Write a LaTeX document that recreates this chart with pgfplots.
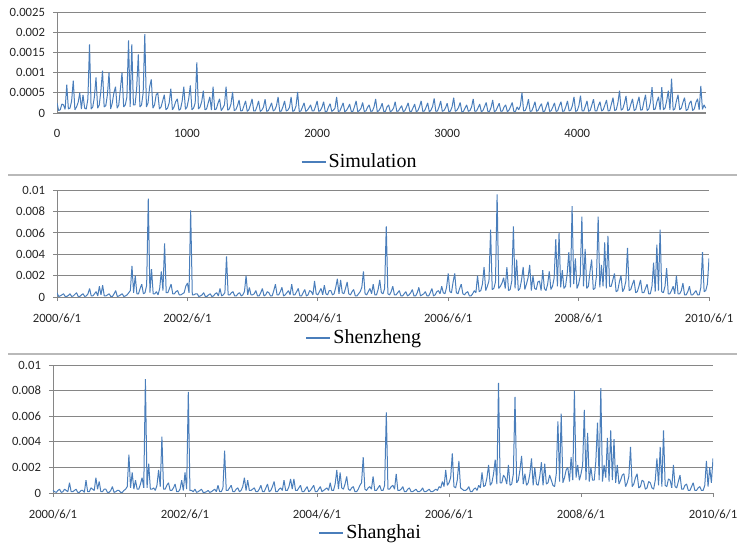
\documentclass[border=0pt]{standalone}
\usepackage{pgfplots}
\pgfplotsset{compat=1.18}
\usepackage{pgfplotstable}
\usepackage{fontspec}
\setmainfont{Liberation Serif}
\newfontfamily\tickfont{Carlito}

\definecolor{ser}{RGB}{74,126,187}
\definecolor{grd}{RGB}{134,134,134}
\definecolor{sep}{RGB}{185,185,185}

% Simulation: y in units of 1e-4, one value every 12.5 steps (0..4987.5)
\pgfplotstableread[row sep=\\]{
y\\
2.5\\0.6\\0.8\\2.2\\2.0\\0.9\\7.0\\1.0\\1.2\\3.0\\8.0\\0.8\\1.5\\2.6\\5.0\\1.0\\
4.5\\1.2\\1.0\\3.5\\17.0\\1.0\\1.5\\4.0\\8.8\\1.2\\2.0\\5.5\\10.5\\1.5\\1.8\\4.5\\
10.0\\1.0\\2.5\\5.0\\6.5\\1.2\\2.0\\6.0\\10.0\\1.5\\2.0\\4.0\\18.0\\1.5\\17.0\\2.0\\
2.0\\6.0\\14.5\\1.5\\2.0\\5.0\\19.5\\1.5\\2.5\\6.5\\8.3\\1.2\\2.0\\4.5\\5.0\\1.0\\
1.5\\3.0\\4.5\\0.8\\1.2\\2.5\\6.0\\0.8\\1.5\\2.8\\3.5\\0.7\\1.0\\3.0\\6.5\\0.9\\
1.5\\3.5\\6.8\\0.8\\1.2\\2.5\\12.5\\1.0\\1.5\\2.8\\5.5\\0.8\\1.0\\2.5\\4.0\\0.7\\
6.5\\0.8\\1.0\\2.4\\3.5\\0.6\\1.2\\2.0\\6.5\\0.7\\1.0\\2.2\\5.2\\0.6\\0.8\\1.8\\
3.2\\0.5\\0.6\\1.8\\3.0\\0.4\\0.8\\2.0\\3.5\\0.5\\0.5\\1.6\\3.0\\0.4\\0.7\\1.5\\
3.4\\0.4\\0.6\\1.5\\2.5\\0.5\\0.8\\1.8\\4.0\\0.4\\0.5\\1.6\\3.0\\0.5\\0.7\\1.4\\
4.0\\0.4\\0.6\\1.7\\5.2\\0.4\\0.5\\1.5\\2.5\\0.4\\0.7\\1.3\\2.0\\0.5\\0.5\\1.6\\
3.0\\0.4\\0.6\\1.4\\2.8\\0.3\\0.4\\1.5\\2.3\\0.4\\0.7\\1.2\\4.0\\0.4\\0.5\\1.5\\
2.5\\0.3\\0.6\\1.3\\2.2\\0.4\\0.4\\1.6\\3.0\\0.3\\0.6\\1.2\\2.6\\0.4\\0.5\\1.4\\
2.0\\0.4\\0.5\\1.5\\3.5\\0.3\\0.6\\1.3\\2.4\\0.4\\0.4\\1.5\\2.0\\0.3\\0.6\\1.2\\
2.8\\0.4\\0.5\\1.2\\1.8\\0.3\\0.6\\1.5\\2.5\\0.4\\0.4\\1.3\\2.2\\0.3\\0.6\\1.6\\
3.0\\0.4\\0.5\\1.4\\2.5\\0.3\\0.7\\1.6\\3.6\\0.4\\0.5\\1.5\\3.0\\0.4\\0.6\\1.3\\
2.4\\0.3\\0.5\\1.5\\3.8\\0.4\\0.7\\1.4\\2.6\\0.3\\0.4\\1.2\\2.0\\0.4\\0.6\\1.5\\
3.5\\0.4\\0.5\\1.3\\2.2\\0.3\\0.6\\1.6\\2.6\\0.4\\0.4\\1.4\\3.2\\0.3\\0.6\\1.5\\
2.4\\0.4\\0.5\\1.5\\2.0\\0.3\\0.7\\1.6\\2.6\\0.4\\0.4\\1.5\\0.8\\1.8\\5.0\\0.5\\
0.6\\1.6\\3.4\\0.4\\0.5\\1.5\\2.8\\0.4\\0.7\\1.6\\2.3\\0.3\\0.5\\1.7\\2.8\\0.4\\
0.6\\1.5\\2.5\\0.4\\0.6\\1.8\\2.8\\0.4\\0.5\\1.6\\3.0\\0.5\\0.7\\1.8\\4.0\\0.4\\
0.6\\1.8\\4.3\\0.5\\0.5\\1.7\\3.0\\0.4\\0.7\\2.0\\3.4\\0.5\\0.5\\1.8\\2.8\\0.5\\
0.8\\2.0\\3.2\\0.5\\0.6\\2.2\\3.8\\0.6\\0.8\\2.5\\5.5\\0.7\\1.0\\2.4\\4.2\\0.6\\
0.8\\2.2\\3.5\\0.6\\0.9\\2.5\\4.0\\0.7\\0.8\\2.8\\4.5\\0.6\\1.0\\2.6\\6.4\\0.8\\
1.0\\2.8\\4.0\\0.7\\6.4\\0.8\\1.2\\3.0\\5.5\\0.8\\8.5\\0.7\\1.0\\3.0\\4.5\\0.8\\
1.2\\2.6\\3.8\\0.6\\0.9\\2.4\\3.0\\0.6\\1.0\\2.6\\3.5\\0.8\\6.7\\0.9\\2.0\\1.2\\
}\simdata

% Shenzheng: y in units of 1e-3, one value every 0.025 year from 2000/6/1
\pgfplotstableread[row sep=\\]{
y\\
0.4\\0.05\\0.1\\0.2\\0.3\\0.05\\0.05\\0.15\\0.3\\0.05\\0.1\\0.25\\0.4\\0.05\\0.05\\0.2\\0.3\\0.05\\0.1\\0.3\\
0.8\\0.1\\0.1\\0.3\\0.5\\0.1\\1.0\\0.2\\1.1\\0.1\\0.1\\0.2\\0.3\\0.05\\0.05\\0.3\\0.6\\0.05\\0.1\\0.2\\
0.3\\0.05\\0.1\\0.2\\0.4\\0.6\\2.9\\0.4\\2.0\\0.3\\0.3\\0.8\\1.2\\0.3\\0.4\\1.1\\9.2\\0.4\\2.6\\0.3\\
0.3\\0.5\\0.2\\0.8\\2.4\\0.6\\5.0\\0.4\\0.4\\0.8\\1.2\\0.3\\0.3\\0.5\\0.6\\0.2\\0.2\\0.3\\0.4\\1.0\\
1.3\\0.4\\8.1\\0.2\\0.2\\0.3\\0.3\\0.05\\0.1\\0.2\\0.4\\0.05\\0.05\\0.2\\0.3\\0.05\\0.1\\0.3\\0.4\\0.1\\
0.8\\0.1\\0.2\\0.4\\3.8\\0.2\\0.2\\0.4\\0.5\\0.1\\0.1\\0.3\\0.4\\0.1\\0.2\\0.5\\2.0\\0.2\\0.9\\0.2\\
0.2\\0.3\\0.6\\0.1\\0.1\\0.4\\0.8\\0.1\\0.2\\0.5\\0.4\\0.1\\0.1\\0.6\\1.2\\0.2\\0.2\\0.5\\0.9\\0.1\\
0.2\\0.4\\0.6\\0.2\\1.2\\0.2\\0.2\\0.5\\0.8\\0.1\\0.1\\0.4\\0.7\\0.1\\0.2\\0.6\\0.5\\0.2\\1.5\\0.3\\
0.2\\0.5\\0.8\\0.2\\1.1\\0.3\\0.2\\0.6\\0.6\\0.2\\0.3\\0.9\\1.7\\0.3\\1.6\\0.4\\0.3\\0.8\\1.4\\0.3\\
0.2\\0.5\\0.7\\0.1\\0.1\\0.3\\0.5\\0.9\\2.4\\0.3\\0.2\\0.5\\0.8\\0.3\\1.2\\0.2\\0.2\\0.7\\1.6\\0.4\\
0.3\\0.8\\6.6\\0.3\\0.2\\0.5\\1.0\\0.2\\0.2\\0.4\\0.6\\0.1\\0.1\\0.3\\0.5\\0.1\\0.2\\0.4\\0.7\\0.1\\
0.1\\0.4\\0.9\\0.1\\0.2\\0.3\\0.5\\0.1\\0.1\\0.4\\0.8\\0.1\\0.2\\0.5\\0.6\\0.3\\1.0\\0.4\\0.3\\0.9\\
2.2\\0.5\\0.4\\1.4\\2.2\\0.4\\0.3\\0.8\\1.2\\0.3\\0.2\\0.4\\0.5\\0.1\\0.1\\0.3\\0.6\\0.4\\2.0\\0.5\\
0.6\\1.2\\2.8\\0.6\\1.0\\1.5\\6.3\\0.7\\0.8\\1.4\\9.6\\0.8\\1.0\\1.3\\1.8\\0.8\\2.8\\0.6\\0.7\\1.5\\
6.6\\0.8\\3.5\\0.6\\0.8\\1.6\\2.8\\0.7\\1.2\\1.8\\3.0\\0.6\\2.0\\0.8\\0.7\\1.4\\1.5\\0.6\\2.5\\0.8\\
0.6\\1.2\\2.4\\0.7\\1.0\\1.8\\5.4\\1.0\\6.0\\0.9\\2.5\\0.8\\1.0\\2.2\\4.2\\0.9\\8.5\\1.2\\3.6\\0.8\\
1.2\\2.0\\7.5\\1.0\\4.5\\0.8\\1.0\\2.4\\3.5\\0.7\\0.8\\2.0\\7.5\\0.9\\3.0\\1.0\\5.1\\0.8\\5.7\\1.0\\
1.0\\1.6\\2.2\\0.5\\0.6\\1.4\\2.0\\0.5\\0.8\\1.5\\4.6\\0.6\\0.7\\1.2\\1.6\\0.4\\0.5\\1.0\\1.6\\0.4\\
0.4\\0.8\\1.2\\0.3\\0.3\\1.0\\3.2\\0.5\\4.9\\0.6\\6.3\\0.5\\0.4\\1.0\\2.7\\0.3\\0.3\\0.6\\1.0\\0.3\\
2.0\\0.3\\0.3\\0.6\\1.3\\0.2\\0.2\\0.5\\1.0\\0.2\\0.2\\0.4\\0.6\\0.2\\0.2\\0.9\\4.2\\0.5\\0.6\\1.2\\
3.6\\
}\szdata

% Shanghai: y in units of 1e-3, one value every 0.025 year from 2000/6/1
\pgfplotstableread[row sep=\\]{
y\\
0.2\\0.1\\0.05\\0.2\\0.3\\0.05\\0.1\\0.3\\0.2\\0.1\\0.8\\0.1\\0.1\\0.2\\0.3\\0.05\\0.05\\0.2\\0.2\\0.05\\
1.0\\0.1\\0.1\\0.4\\0.3\\0.2\\1.2\\0.3\\0.9\\0.1\\0.1\\0.3\\0.3\\0.05\\0.05\\0.2\\0.5\\0.05\\0.1\\0.2\\
0.2\\0.05\\0.05\\0.2\\0.3\\0.5\\3.0\\0.4\\1.6\\0.3\\1.0\\0.3\\0.3\\0.7\\1.2\\0.4\\8.9\\0.4\\2.3\\0.3\\
0.3\\0.4\\0.2\\0.6\\1.8\\0.5\\4.4\\0.3\\0.3\\0.6\\0.8\\0.2\\0.2\\0.4\\0.7\\0.1\\0.1\\0.3\\1.0\\0.2\\
1.6\\0.3\\7.9\\0.2\\0.2\\0.1\\0.3\\0.05\\0.1\\0.2\\0.3\\0.05\\0.05\\0.1\\0.2\\0.05\\0.1\\0.2\\0.3\\0.1\\
0.6\\0.1\\0.1\\0.4\\3.3\\0.2\\0.2\\0.4\\0.6\\0.1\\0.1\\0.3\\0.4\\0.1\\0.2\\0.5\\1.2\\0.2\\1.0\\0.2\\
0.2\\0.3\\0.4\\0.1\\0.1\\0.3\\0.6\\0.1\\0.1\\0.4\\0.7\\0.1\\0.2\\0.5\\0.9\\0.1\\0.1\\0.3\\0.4\\0.2\\
1.0\\0.2\\0.2\\0.5\\1.1\\0.3\\1.1\\0.2\\0.2\\0.4\\0.6\\0.1\\0.1\\0.3\\0.5\\0.1\\0.2\\0.4\\0.6\\0.1\\
0.1\\0.3\\0.5\\0.1\\0.2\\0.3\\0.4\\0.2\\0.8\\0.2\\0.2\\0.7\\1.8\\0.3\\1.6\\0.4\\0.3\\0.7\\1.3\\0.3\\
0.2\\0.4\\0.5\\0.1\\0.1\\0.3\\0.6\\0.8\\2.8\\0.3\\0.2\\0.4\\0.5\\0.3\\1.3\\0.2\\0.2\\0.4\\0.6\\0.2\\
0.2\\0.6\\6.3\\0.3\\0.3\\0.5\\0.6\\0.3\\1.5\\0.2\\0.2\\0.3\\0.5\\0.1\\0.1\\0.3\\0.4\\0.1\\0.1\\0.2\\
0.3\\0.1\\0.1\\0.2\\0.4\\0.1\\0.1\\0.2\\0.3\\0.1\\0.1\\0.2\\0.3\\0.2\\0.5\\0.4\\0.9\\0.5\\1.8\\0.6\\
0.8\\1.2\\3.1\\0.5\\0.4\\1.0\\2.5\\0.4\\0.3\\0.2\\0.2\\0.3\\0.5\\0.1\\0.1\\0.3\\0.4\\0.2\\0.6\\0.4\\
1.6\\0.5\\0.6\\1.2\\2.2\\0.6\\0.8\\1.5\\2.6\\0.7\\8.6\\0.8\\0.8\\1.4\\1.2\\0.7\\2.2\\0.6\\0.7\\1.5\\
7.5\\0.8\\1.0\\1.8\\2.9\\0.7\\1.5\\0.6\\0.8\\1.5\\2.7\\0.6\\2.0\\0.7\\0.6\\1.3\\2.4\\0.6\\2.3\\0.7\\
0.8\\1.4\\1.0\\0.6\\0.5\\1.5\\5.6\\0.9\\6.2\\0.8\\1.2\\1.8\\2.0\\0.9\\2.8\\1.0\\8.0\\1.2\\2.2\\1.0\\
1.5\\2.2\\6.5\\1.0\\4.7\\0.9\\2.0\\1.0\\1.0\\2.5\\5.5\\1.0\\8.2\\0.9\\2.2\\1.2\\4.3\\0.9\\4.9\\1.0\\
4.2\\0.8\\2.2\\0.7\\1.0\\1.4\\1.5\\0.5\\0.8\\1.3\\3.6\\0.5\\0.7\\1.2\\1.5\\0.4\\0.5\\1.0\\0.9\\0.3\\
0.4\\0.9\\0.8\\0.4\\0.3\\1.0\\2.7\\0.6\\3.6\\0.5\\4.9\\0.6\\0.5\\1.1\\1.0\\0.4\\2.2\\0.5\\0.4\\0.9\\
1.4\\0.3\\0.3\\0.6\\0.7\\0.2\\0.2\\0.5\\0.8\\0.2\\0.2\\0.4\\0.5\\0.2\\0.2\\0.6\\2.5\\0.5\\2.0\\0.8\\
2.7\\
}\shdata

\pgfplotsset{
  panel/.style={
    scale only axis,
    axis x line*=bottom,
    axis y line*=left,
    ymin=0,
    ymajorgrids,
    grid style={grd, line width=0.6pt},
    axis line style={grd, line width=0.7pt},
    tick style={grd, line width=0.6pt},
    tick align=outside,
    major tick length=3pt,
    tick label style={font=\tickfont\fontsize{9.5}{11}\selectfont, text=black!85},
    xticklabel style={yshift=-6pt},
    yticklabel style={xshift=-2.5pt},
    legend style={draw=none, fill=none, inner sep=0pt,
      font=\fontsize{15}{17}\selectfont},
    legend image code/.code={\draw[ser, line width=0.8pt] (0pt,0pt) -- (18pt,0pt);},
  },
  series/.style={ser, line width=0.75pt, mark=none, line join=bevel},
}

\begin{document}
\begin{tikzpicture}
\useasboundingbox (0,0) rectangle (552.75pt,408pt);

% Simulation
\begin{axis}[panel,
  at={(42.75pt,323.25pt)}, anchor=south west,
  width=486.75pt, height=75.75pt,
  xmin=0, xmax=4990, ymax=25,
  xtick={0,1000,2000,3000,4000},
  xticklabels={0,1000,2000,3000,4000},
  xtick style={draw=none},
  x axis line style={line width=1.8pt},
  ytick={0,5,10,15,20,25},
  yticklabels={0,0.0005,0.001,0.0015,0.002,0.0025},
  legend style={at={(0.467,-0.485)}, anchor=center},
]
\addplot[series] table[x expr=\coordindex*12.5, y=y] {\simdata};
\addlegendentry{Simulation}
\end{axis}

% Shenzheng
\begin{axis}[panel,
  at={(42.75pt,185.25pt)}, anchor=south west,
  width=489pt, height=80.25pt,
  xmin=0, xmax=10, ymax=10,
  xtick={0,2,4,6,8,10},
  xticklabels={2000/6/1,2002/6/1,2004/6/1,2006/6/1,2008/6/1,2010/6/1},
  ytick={0,2,4,6,8,10},
  yticklabels={0,0.002,0.004,0.006,0.008,0.01},
  legend style={at={(0.472,-0.383)}, anchor=center},
]
\addplot[series] table[x expr=\coordindex*0.025, y=y] {\szdata};
\addlegendentry{Shenzheng}
\end{axis}

% Shanghai
\begin{axis}[panel,
  at={(39.75pt,38.25pt)}, anchor=south west,
  width=495pt, height=96pt,
  xmin=0, xmax=10, ymax=10,
  xtick={0,2,4,6,8,10},
  xticklabels={2000/6/1,2002/6/1,2004/6/1,2006/6/1,2008/6/1,2010/6/1},
  ytick={0,2,4,6,8,10},
  yticklabels={0,0.002,0.004,0.006,0.008,0.01},
  legend style={at={(0.482,-0.3125)}, anchor=center},
]
\addplot[series] table[x expr=\coordindex*0.025, y=y] {\shdata};
\addlegendentry{Shanghai}
\end{axis}

% chart frame separators
\draw[sep, line width=1pt] (6pt,276.75pt) -- (552.75pt,276.75pt);
\draw[sep, line width=1pt] (6pt,142.5pt) -- (552.75pt,142.5pt);
\end{tikzpicture}
\end{document}
